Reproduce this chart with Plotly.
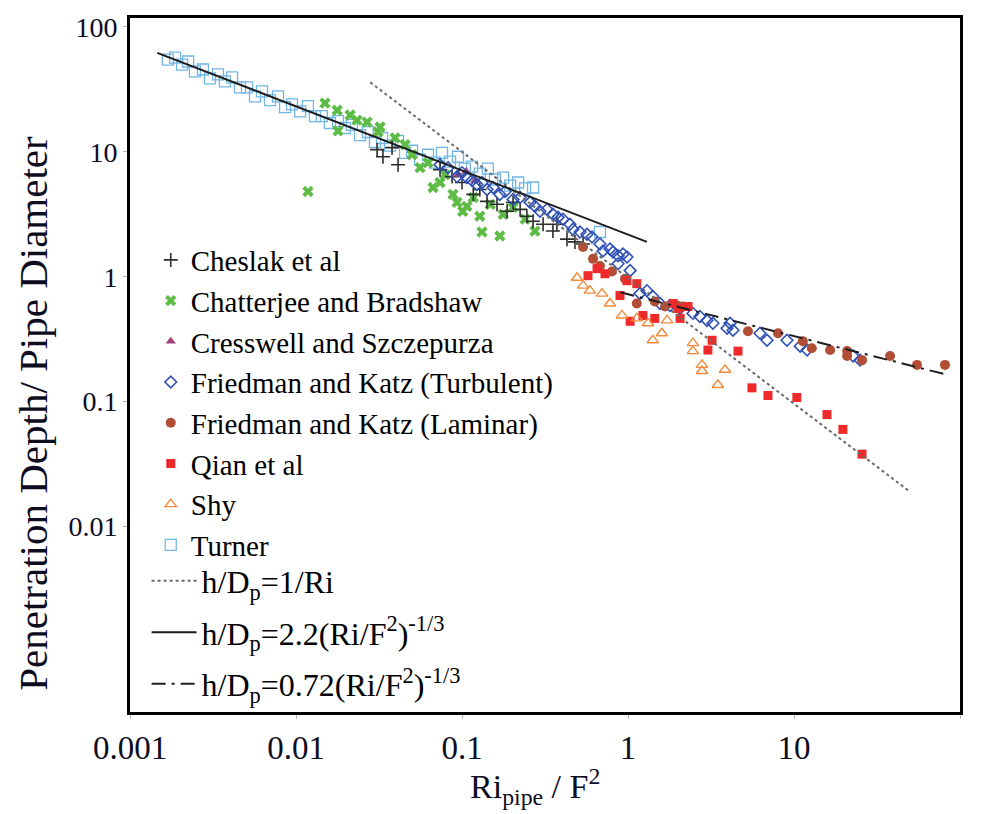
import plotly.graph_objects as go

# ---- measured penetration depth data (Ri_pipe / F^2 , h / D_p) ----
cheslak_x = [0.0308, 0.0334, 0.0412, 0.0379, 0.0737, 0.0871, 0.100, 0.117, 0.128, 0.1415,
             0.1625, 0.187, 0.203, 0.224, 0.246, 0.268, 0.308, 0.353, 0.373, 0.429, 0.479, 0.536]
cheslak_y = [10.4, 9.13, 7.88, 10.8, 7.20, 6.33, 5.68, 4.56, 4.99, 4.01,
             3.80, 3.34, 3.94, 3.46, 3.05, 2.78, 2.63, 2.32, 2.63, 2.00, 1.90, 1.83]

chatterjee_x = [0.0118, 0.01495, 0.0177, 0.0179, 0.0212, 0.0233, 0.0268, 0.0312, 0.0321, 0.0395,
                0.0454, 0.0500, 0.0559, 0.0624, 0.0669, 0.0737, 0.0790, 0.0883, 0.0933, 0.101,
                0.107, 0.117, 0.128, 0.132, 0.148, 0.169, 0.177, 0.203, 0.275, 0.240]
chatterjee_y = [4.81, 24.5, 21.5, 14.7, 19.7, 17.9, 17.3, 14.4, 15.8, 12.9,
                11.4, 9.47, 7.46, 8.18, 5.18, 5.68, 6.57, 4.56, 3.94, 3.34,
                3.66, 4.31, 3.05, 2.28, 3.80, 2.12, 3.16, 3.59, 2.32, 2.89]

cresswell_x = [0.0946, 0.106, 0.120]
cresswell_y = [6.57, 6.94, 5.89]

fk_turb_x = [0.0737, 0.0824, 0.0933, 0.100, 0.107, 0.115, 0.123, 0.132, 0.1415, 0.154,
             0.169, 0.182, 0.203, 0.224, 0.257, 0.275, 0.295, 0.325, 0.353, 0.379,
             0.406, 0.447, 0.466, 0.514, 0.566, 0.607, 0.678, 0.707, 0.779, 0.812,
             0.871, 0.933, 0.986, 0.871, 1.03, 1.18, 1.30, 1.41, 1.56, 1.79,
             2.06, 2.46, 2.71, 2.99, 3.25, 3.95, 4.12, 4.29, 6.24, 6.88,
             9.07, 10.9, 12.0, 22.7, 25.0]
fk_turb_y = [7.89, 7.46, 6.33, 6.81, 6.22, 5.89, 5.47, 5.68, 4.99, 5.18,
             4.56, 4.81, 4.16, 4.31, 3.94, 3.66, 3.34, 3.46, 3.16, 2.99,
             2.89, 2.63, 2.40, 2.28, 2.19, 2.08, 1.83, 1.61, 1.67, 1.58,
             1.47, 1.52, 1.44, 1.27, 1.12, 0.733, 0.774, 0.694, 0.611, 0.589,
             0.557, 0.509, 0.481, 0.447, 0.424, 0.387, 0.424, 0.373, 0.353, 0.310,
             0.310, 0.278, 0.259, 0.232, 0.215]

fk_lam_x = [0.536, 0.616, 0.678, 0.801, 0.959, 1.13, 1.45, 1.67, 1.97, 2.14,
            5.28, 8.01, 11.3, 12.8, 16.5, 20.9, 20.9, 25.7, 37.9, 55.1, 81.2]
fk_lam_y = [1.73, 1.39, 1.22, 1.10, 0.964, 0.611, 0.633, 0.578, 0.589, 0.578,
            0.366, 0.353, 0.305, 0.268, 0.259, 0.254, 0.232, 0.215, 0.232, 0.197, 0.197]

qian_x = [0.574, 0.651, 0.727, 0.895, 0.986, 1.13, 1.03, 1.23, 1.45, 1.87, 2.00,
          2.30, 2.06, 3.21, 3.03, 4.60, 5.58, 6.97, 10.4, 15.8, 19.7, 25.7]
qian_y = [1.02, 1.16, 1.057, 0.707, 0.930, 0.880, 0.440, 0.490, 0.464, 0.611, 0.557,
          0.578, 0.464, 0.310, 0.259, 0.254, 0.129, 0.112, 0.108, 0.0788, 0.0600, 0.0380]

shy_x = [0.493, 0.536, 0.590, 0.697, 0.779, 0.920, 1.13, 1.32, 1.41, 1.60, 1.72,
         2.46, 2.46, 2.79, 2.79, 3.84, 3.48]
shy_y = [0.982, 0.849, 0.774, 0.733, 0.611, 0.490, 0.464, 0.424, 0.310, 0.353, 0.447,
         0.294, 0.254, 0.197, 0.176, 0.180, 0.136]

turner_x = [0.00169, 0.00187, 0.00206, 0.00224, 0.00246, 0.00275, 0.00303, 0.00339, 0.00373, 0.00412,
            0.00460, 0.00507, 0.00566, 0.00624, 0.00697, 0.00779, 0.00859, 0.00946, 0.0106, 0.0118,
            0.0130, 0.0143, 0.0160, 0.0179, 0.0197, 0.0217, 0.0243, 0.0271, 0.0299, 0.0330,
            0.0368, 0.0412, 0.0454, 0.0500, 0.0559, 0.0624, 0.0688, 0.0758, 0.0847, 0.0946,
            0.104, 0.115, 0.128, 0.143, 0.158, 0.177, 0.195, 0.218, 0.240, 0.268, 0.678]
turner_y = [54.7, 56.7, 49.9, 52.8, 44.0, 45.6, 38.7, 41.6, 36.6, 39.4,
            32.8, 32.8, 27.8, 30.5, 25.9, 27.8, 22.8, 24.0, 21.1, 23.2,
            19.3, 19.3, 17.0, 17.6, 15.5, 16.4, 13.6, 14.4, 12.0, 12.9,
            11.2, 12.2, 9.82, 10.2, 8.64, 9.47, 8.18, 9.82, 8.33, 9.13,
            7.33, 7.60, 6.69, 7.33, 6.00, 6.22, 5.37, 5.68, 5.09, 5.18, 2.28]

# ---- correlation lines (end points) ----
inv_ri_x = [0.028, 50]
inv_ri_y = [36, 0.019]
fit_turb_x = [0.00146, 1.30]
fit_turb_y = [62, 1.90]
fit_lam_x = [0.9, 84]
fit_lam_y = [0.75, 0.164]

SERIF = "Liberation Serif"
TXT = "#0d0d1f"

fig = go.Figure()


def add_points(name, xs, ys, symbol, color, size, lw=0, rank=0):
    marker = dict(symbol=symbol, size=size, color=color)
    if lw:
        marker["line"] = dict(color=color, width=lw)
    else:
        marker["line"] = dict(width=0)
    fig.add_trace(go.Scatter(x=xs, y=ys, mode="markers", name=name, marker=marker,
                             legend="legend", legendrank=rank))


add_points("Turner", turner_x, turner_y, "square-open", "#72b6e4", 11, lw=1.3, rank=8)
add_points("Chatterjee and Bradshaw", chatterjee_x, chatterjee_y, "x", "#5dbb46", 10, rank=2)
add_points("Cheslak et al", cheslak_x, cheslak_y, "cross-thin-open", "#2d2d2d", 10, lw=1.6, rank=1)
add_points("Cresswell and Szczepurza", cresswell_x, cresswell_y, "triangle-up", "#a3407e", 9, rank=3)
add_points("Friedman and Katz (Turbulent)", fk_turb_x, fk_turb_y, "diamond-open", "#2f50b4", 9, lw=1.6, rank=4)
add_points("Friedman and Katz (Laminar)", fk_lam_x, fk_lam_y, "circle", "#b24e36", 10, rank=5)
add_points("Qian et al", qian_x, qian_y, "square", "#ee2a2a", 9, rank=6)
add_points("Shy", shy_x, shy_y, "triangle-up-open", "#f28a3c", 10, lw=1.4, rank=7)

fig.add_trace(go.Scatter(x=inv_ri_x, y=inv_ri_y, mode="lines", name="h/D<sub>p</sub>=1/Ri",
                         line=dict(color="#6a6a6a", width=2, dash="dot"),
                         legend="legend2", legendgroup="c1", legendrank=1))
fig.add_trace(go.Scatter(x=fit_turb_x, y=fit_turb_y, mode="lines",
                         name="h/D<sub>p</sub>=2.2(Ri/F<sup>2</sup>)<sup>-1/3</sup>",
                         line=dict(color="#1e1e1e", width=2),
                         legend="legend2", legendgroup="c2", legendrank=2))
fig.add_trace(go.Scatter(x=fit_lam_x, y=fit_lam_y, mode="lines",
                         name="h/D<sub>p</sub>=0.72(Ri/F<sup>2</sup>)<sup>-1/3</sup>",
                         line=dict(color="#1e1e1e", width=2, dash="14px,6px,3px,6px"),
                         legend="legend2", legendgroup="c3", legendrank=3))

axis_common = dict(type="log", showgrid=False, zeroline=False, showline=True, mirror=True,
                   linecolor="black", linewidth=3, ticks="outside", ticklen=4,
                   tickcolor="#b8b8b8", tickwidth=1)

fig.update_layout(
    width=981, height=814,
    margin=dict(l=130, r=21, t=12, b=102),
    paper_bgcolor="white", plot_bgcolor="white",
    font=dict(family=SERIF, color=TXT),
    xaxis=dict(axis_common, range=[-3, 2],
               tickvals=[0.001, 0.01, 0.1, 1, 10, 100],
               ticktext=["0.001", "0.01", "0.1", "1", "10", "100"],
               tickfont=dict(family=SERIF, size=33, color=TXT)),
    yaxis=dict(axis_common, range=[-3.484, 2.071],
               tickvals=[0.01, 0.1, 1, 10, 100],
               ticktext=["0.01", "0.1", "1", "10", "100"],
               tickfont=dict(family=SERIF, size=28, color=TXT)),
    legend=dict(x=0.025, y=0.688, xanchor="left", yanchor="top",
                bgcolor="rgba(255,255,255,0)", borderwidth=0,
                font=dict(family=SERIF, size=29, color="black"),
                itemsizing="trace", traceorder="normal"),
    legend2=dict(x=0.02, y=0.2286, xanchor="left", yanchor="top",
                 bgcolor="rgba(255,255,255,0)", borderwidth=0,
                 font=dict(family=SERIF, size=32, color="black"),
                 itemwidth=45, traceorder="grouped", tracegroupgap=7),
    annotations=[
        dict(text="Penetration Depth/ Pipe Diameter", xref="paper", yref="paper",
             x=-0.117, y=0.431, xanchor="center", yanchor="middle", textangle=-90,
             showarrow=False, font=dict(family=SERIF, size=41, color=TXT)),
        dict(text="Ri<sub>pipe</sub> / F<sup>2</sup>", xref="paper", yref="paper",
             x=0.488, y=-0.108, xanchor="center", yanchor="middle", showarrow=False,
             font=dict(family=SERIF, size=34, color=TXT)),
    ],
)

fig.write_html("out.html")
